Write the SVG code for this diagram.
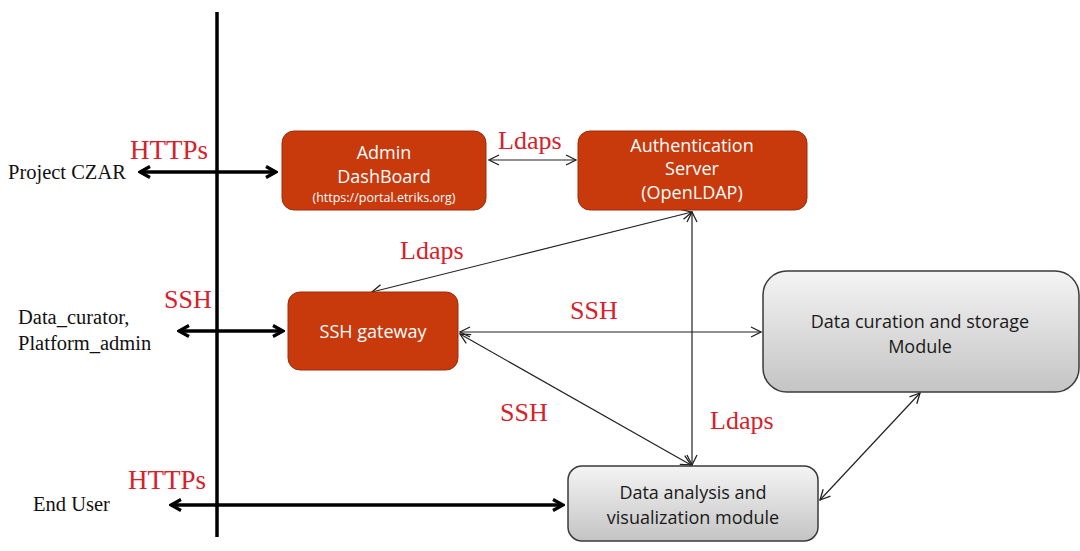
<svg xmlns="http://www.w3.org/2000/svg" width="1080" height="551" viewBox="0 0 1080 551">
<defs>
<style>
.red{fill:#C8390C;stroke:#9E2C08;stroke-width:1}
.gray{fill:url(#g);stroke:#3a3a3a;stroke-width:1.5}
.wt{font-family:"Open Sans","Liberation Sans",sans-serif;fill:#fff;text-anchor:middle}
.dt{font-family:"Open Sans","Liberation Sans",sans-serif;fill:#1a1a1a;text-anchor:middle}
.lbl{font-family:"Liberation Serif",serif;fill:#D8202A}
.act{font-family:"Liberation Serif",serif;fill:#111;font-size:20.5px}
.thin{stroke:#222;stroke-width:1.2;fill:none;marker-start:url(#ta);marker-end:url(#ta)}
.thick{stroke:#000;stroke-width:3.5;fill:none;marker-start:url(#ba);marker-end:url(#ba)}
</style>
<linearGradient id="g" x1="0" y1="0" x2="0" y2="1">
<stop offset="0" stop-color="#f4f4f4"/>
<stop offset="1" stop-color="#c4c4c4"/>
</linearGradient>
<marker id="ta" viewBox="0 0 12 12" refX="11" refY="6" markerWidth="12" markerHeight="12" markerUnits="userSpaceOnUse" orient="auto-start-reverse">
<path d="M1,1 L11,6 L1,11" fill="none" stroke="#222" stroke-width="1.3"/>
</marker>
<marker id="ba" viewBox="0 0 14 14" refX="12" refY="7" markerWidth="14" markerHeight="14" markerUnits="userSpaceOnUse" orient="auto-start-reverse">
<path d="M2,1.5 L12,7 L2,12.5" fill="none" stroke="#000" stroke-width="3.2" stroke-linejoin="miter"/>
</marker>
</defs>
<rect width="1080" height="551" fill="#fff"/>
<line x1="217" y1="12" x2="217" y2="537" stroke="#000" stroke-width="3.5"/>
<g id="connectors">
<line class="thick" x1="140" y1="172" x2="276" y2="172"/>
<line class="thick" x1="179" y1="331" x2="283" y2="331"/>
<line class="thick" x1="171" y1="505" x2="563" y2="505"/>
<line class="thin" x1="489" y1="160" x2="576" y2="160"/>
<line class="thin" x1="692" y1="212" x2="372" y2="292"/>
<line class="thin" x1="692" y1="212" x2="692" y2="465"/>
<line class="thin" x1="460" y1="332" x2="761" y2="332"/>
<line class="thin" x1="460" y1="334" x2="691" y2="465"/>
<line class="thin" x1="920" y1="393" x2="820" y2="500"/>
</g>
<g id="admin-dashboard">
<rect class="red" x="282" y="131" width="204" height="79" rx="12"/>
<text class="wt" x="384" y="159" font-size="18">Admin</text>
<text class="wt" x="384" y="183" font-size="18">DashBoard</text>
<text class="wt" x="384" y="202" font-size="12.5">(https://portal.etriks.org)</text>
</g>
<g id="auth-server">
<rect class="red" x="578" y="131" width="229" height="79" rx="12"/>
<text class="wt" x="692" y="152" font-size="18">Authentication</text>
<text class="wt" x="692" y="175" font-size="18">Server</text>
<text class="wt" x="692" y="199" font-size="18">(OpenLDAP)</text>
</g>
<g id="ssh-gateway">
<rect class="red" x="288" y="292" width="170" height="78" rx="12"/>
<text class="wt" x="373" y="338" font-size="18">SSH gateway</text>
</g>
<g id="data-curation">
<rect class="gray" x="763" y="271" width="316" height="121" rx="24"/>
<text class="dt" x="920" y="328" font-size="18">Data curation and storage</text>
<text class="dt" x="920" y="353" font-size="18">Module</text>
</g>
<g id="data-analysis">
<rect class="gray" x="568" y="466" width="250" height="75" rx="14"/>
<text class="dt" x="693" y="499" font-size="18">Data analysis and</text>
<text class="dt" x="693" y="524" font-size="18">visualization module</text>
</g>
<g id="labels">
<text class="lbl" x="130" y="159" font-size="27">HTTPs</text>
<text class="lbl" x="498" y="149" font-size="26">Ldaps</text>
<text class="lbl" x="400" y="259" font-size="26">Ldaps</text>
<text class="lbl" x="164" y="308" font-size="26">SSH</text>
<text class="lbl" x="570" y="319" font-size="26">SSH</text>
<text class="lbl" x="500" y="421" font-size="26">SSH</text>
<text class="lbl" x="710" y="429" font-size="26">Ldaps</text>
<text class="lbl" x="128" y="489" font-size="27">HTTPs</text>
</g>
<g id="actors">
<text class="act" x="8" y="179">Project CZAR</text>
<text class="act" x="18" y="324">Data_curator,</text>
<text class="act" x="18" y="350">Platform_admin</text>
<text class="act" x="33" y="511">End User</text>
</g>
</svg>
